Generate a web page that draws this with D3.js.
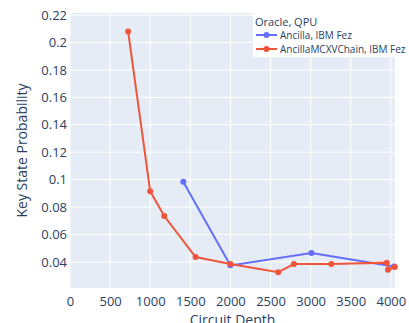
<!DOCTYPE html>
<html>
<head>
<meta charset="utf-8">
<script src="https://cdn.jsdelivr.net/npm/d3@7"></script>
<style>
  body { margin: 0; background: #fff; overflow: hidden; }
  text { font-family: "Open Sans", sans-serif; fill: #2a3f5f; }
</style>
</head>
<body>
<div id="chart"></div>
<script>
// series
const ancillaDepth = [1412, 2000, 3010, 4040];
const ancillaProb  = [0.0985, 0.0375, 0.0465, 0.0366];

const chainDepth = [725, 1000, 1175, 1566, 2000, 2596, 2792, 3258, 3950, 3965, 4050];
const chainProb  = [0.208, 0.0915, 0.0735, 0.0436, 0.0385, 0.0325, 0.0385, 0.0385, 0.0395, 0.0343, 0.0363];

const xTicks = [0, 500, 1000, 1500, 2000, 2500, 3000, 3500, 4000];
const yTicks = [0.04, 0.06, 0.08, 0.1, 0.12, 0.14, 0.16, 0.18, 0.2, 0.22];

const seriesNames = ["Ancilla, IBM Fez", "AncillaMCXVChain, IBM Fez"];
const seriesColors = ["#636efa", "#EF553B"];
const legendTitle = "Oracle, QPU";

const W = 409, H = 323;
const margin = {top: 13, right: 14, bottom: 35, left: 70},
    width = W - margin.left - margin.right,
    height = H - margin.top - margin.bottom;

const svg = d3.select("#chart")
    .append("svg")
    .attr("width", W)
    .attr("height", H);

const g = svg.append("g")
    .attr("transform", `translate(${margin.left},${margin.top})`);

const x = d3.scaleLinear().domain([0, 4052]).range([0, width]);
const y = d3.scaleLinear().domain([0.021, 0.2215]).range([height, 0]);

// plot background
g.append("rect")
    .attr("width", width)
    .attr("height", height)
    .attr("fill", "#E5ECF6");

// gridlines
g.append("g")
    .selectAll("line")
    .data(xTicks)
    .join("line")
    .attr("x1", d => x(d)).attr("x2", d => x(d))
    .attr("y1", 0).attr("y2", height)
    .attr("stroke", "#fff")
    .attr("stroke-width", 1);

g.append("g")
    .selectAll("line")
    .data(yTicks)
    .join("line")
    .attr("y1", d => y(d)).attr("y2", d => y(d))
    .attr("x1", 0).attr("x2", width)
    .attr("stroke", "#fff")
    .attr("stroke-width", 1);

// axes (no domain lines, no tick marks)
const xAxis = g.append("g")
    .attr("transform", `translate(0,${height})`)
    .call(d3.axisBottom(x).tickValues(xTicks).tickSize(0).tickPadding(9).tickFormat(d3.format("d")));
xAxis.select(".domain").remove();
xAxis.selectAll("text").style("font-size", "13px").attr("fill", "#2a3f5f");

const yAxis = g.append("g")
    .call(d3.axisLeft(y).tickValues(yTicks).tickSize(0).tickPadding(3).tickFormat(d => d3.format("")(+d.toFixed(2))));
yAxis.select(".domain").remove();
yAxis.selectAll("text").style("font-size", "13px").attr("fill", "#2a3f5f");

// series
const series = [
    {xs: ancillaDepth, ys: ancillaProb},
    {xs: chainDepth, ys: chainProb}
];

const line = d3.line().x(d => x(d[0])).y(d => y(d[1]));

series.forEach((s, i) => {
    const pts = s.xs.map((v, j) => [v, s.ys[j]]);
    g.append("path")
        .datum(pts)
        .attr("d", line)
        .attr("fill", "none")
        .attr("stroke", seriesColors[i])
        .attr("stroke-width", 2);
    g.append("g")
        .selectAll("circle")
        .data(pts)
        .join("circle")
        .attr("cx", d => x(d[0]))
        .attr("cy", d => y(d[1]))
        .attr("r", 3)
        .attr("fill", seriesColors[i]);
});

// axis titles
svg.append("text")
    .attr("text-anchor", "middle")
    .attr("x", margin.left + width / 2)
    .attr("y", 325)
    .style("font-size", "14px")
    .text("Circuit Depth");

svg.append("text")
    .attr("text-anchor", "middle")
    .attr("transform", `translate(27,${margin.top + height / 2}) rotate(-90)`)
    .style("font-size", "14px")
    .text("Key State Probability");

// legend
const legend = svg.append("g").attr("transform", "translate(253,0)");
legend.append("rect")
    .attr("width", 143)
    .attr("height", 57)
    .attr("fill", "#fff");
legend.append("text")
    .attr("x", 2)
    .attr("y", 26)
    .style("font-size", "11px")
    .text(legendTitle);

seriesNames.forEach((name, i) => {
    const ly = 35 + i * 14;
    legend.append("line")
        .attr("x1", 3).attr("x2", 24)
        .attr("y1", ly).attr("y2", ly)
        .attr("stroke", seriesColors[i])
        .attr("stroke-width", 2);
    legend.append("circle")
        .attr("cx", 13.5).attr("cy", ly)
        .attr("r", 3)
        .attr("fill", seriesColors[i]);
    legend.append("text")
        .attr("x", 27)
        .attr("y", ly + 3.5)
        .style("font-size", "10px")
        .text(name);
});
</script>
</body>
</html>
